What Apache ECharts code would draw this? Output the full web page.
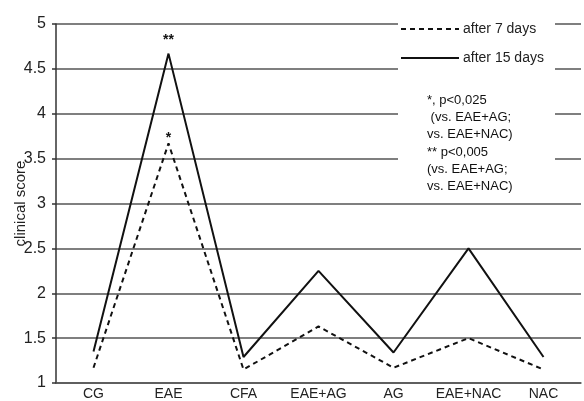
<!DOCTYPE html>
<html><head><meta charset="utf-8">
<script src="https://cdn.jsdelivr.net/npm/echarts@6/dist/echarts.min.js"></script>
<style>html,body{margin:0;padding:0;background:#fff}#c{width:584px;height:401px}</style>
</head><body><div id="c"></div>
<script>
const categories = ['CG','EAE','CFA','EAE+AG','AG','EAE+NAC','NAC'];
const after7 = [1.17, 3.67, 1.15, 1.63, 1.17, 1.5, 1.15];
const after15 = [1.35, 4.67, 1.29, 2.25, 1.34, 2.5, 1.29];
const yTicks = {min: 1, max: 5, interval: 0.5};
const seriesNames = ['after 7 days', 'after 15 days'];
const stars7 = {EAE: '*'};
const stars15 = {EAE: '**'};
const notes = ['*, p<0,025', ' (vs. EAE+AG;', 'vs. EAE+NAC)', '** p<0,005', '(vs. EAE+AG;', 'vs. EAE+NAC)'];

const font = 'Liberation Sans, Arial, sans-serif';
function marks(vals, stars, dist) {
  const out = [];
  categories.forEach((c, i) => {
    if (stars[c]) out.push({coord: [c, vals[i]], value: stars[c]});
  });
  return {
    symbol: 'circle', symbolSize: 0, silent: true,
    label: {show: true, position: 'top', distance: dist, formatter: p => p.value,
      fontSize: 14, fontWeight: 'bold', color: '#111', fontFamily: font},
    data: out
  };
}
const chart = echarts.init(document.getElementById('c'));
chart.setOption({
  animation: false,
  backgroundColor: '#fff',
  grid: {left: 56, right: 3, top: 24, bottom: 18, containLabel: false, outerBoundsMode: 'none'},
  xAxis: {
    type: 'category', data: categories, boundaryGap: true,
    axisLine: {lineStyle: {color: '#555', width: 1.5}},
    axisTick: {show: false},
    axisLabel: {color: '#222', fontSize: 14, fontFamily: font, margin: 4, interval: 0}
  },
  yAxis: {
    type: 'value', min: yTicks.min, max: yTicks.max, interval: yTicks.interval,
    name: 'clinical score', nameLocation: 'middle', nameGap: 28, nameMoveOverlap: false,
    nameTextStyle: {color: '#222', fontSize: 15, fontFamily: font},
    axisLine: {show: true, lineStyle: {color: '#333', width: 1.5}},
    axisTick: {show: true, length: 4, lineStyle: {color: '#333', width: 1.5}},
    axisLabel: {color: '#222', fontSize: 16, fontFamily: font, margin: 10},
    splitLine: {lineStyle: {color: '#555', width: 1.5}}
  },
  legend: {
    orient: 'vertical', left: 395, top: 17, itemWidth: 58, itemHeight: 14, itemGap: 15,
    z: 10, itemStyle: {opacity: 0},
    textStyle: {color: '#222', fontSize: 14, fontFamily: font, padding: [0,0,0,-1]},
    data: seriesNames
  },
  graphic: [
    {type: 'rect', z: 5, shape: {x: 398, y: 12, width: 157, height: 187}, style: {fill: '#fff'}},
    ...notes.map((t, i) => ({type: 'text', z: 6, left: 427, top: 94 + i * 17.2,
      style: {text: t, fill: '#111', font: '13px ' + font}}))
  ],
  series: [
    {name: seriesNames[0], type: 'line', data: after7, symbol: 'none',
     lineStyle: {color: '#111', width: 2, type: [5, 4]}, itemStyle: {color: '#111'},
     markPoint: marks(after7, stars7, -2)},
    {name: seriesNames[1], type: 'line', data: after15, symbol: 'none',
     lineStyle: {color: '#111', width: 2}, itemStyle: {color: '#111'},
     markPoint: marks(after15, stars15, 6)}
  ]
});
</script></body></html>
